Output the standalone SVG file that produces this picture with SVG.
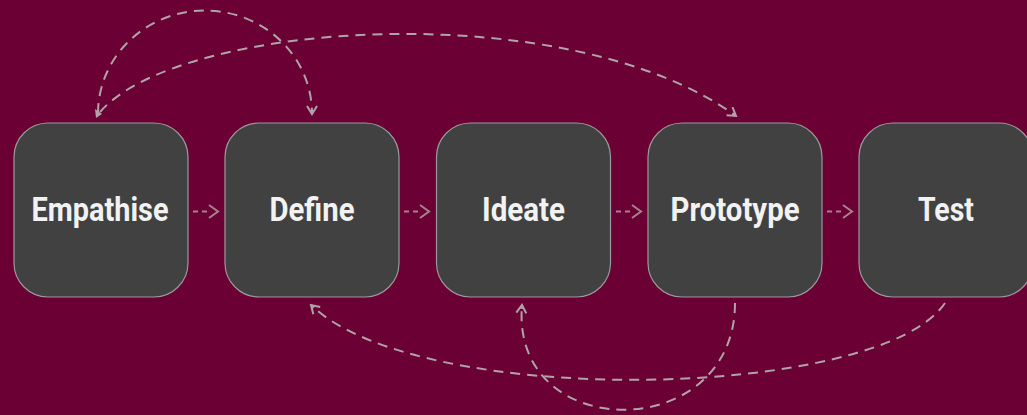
<svg xmlns="http://www.w3.org/2000/svg" width="1027" height="415" viewBox="0 0 1027 415">
<defs>
<style>
.bg{fill:#6a0033}
.box{fill:#414141;stroke:#9a9a9a;stroke-width:1.2}
.lbl{font-family:Roboto,"Liberation Sans",sans-serif;font-weight:700;font-size:33px;fill:#f2f2f2;text-anchor:middle}
.con{fill:none;stroke:#b0a3aa;stroke-width:2;stroke-dasharray:10 7}
.small{fill:none;stroke:#a9828f;stroke-width:2}
</style>
<marker id="ah" viewBox="-10 -6 12 12" refX="0" refY="0" markerWidth="12" markerHeight="12" markerUnits="userSpaceOnUse" orient="auto">
<path d="M-8,-5 L0,0 L-8,5" fill="none" stroke="#b0a3aa" stroke-width="2"/>
<path d="M-4,-1.5 L0,0 L-4,1.5 Z" fill="#b0a3aa"/>
</marker>
</defs>
<rect class="bg" x="0" y="0" width="1027" height="415"/>
<g id="connectors">
<path class="con" d="M98,113 A107,103 0 0 1 312,114" marker-end="url(#ah)"/>
<path class="con" d="M100,112 C180,20 570,-5 736,116" marker-end="url(#ah)"/>
<polygon points="95,109 102,114 96,118" fill="#b0a3aa"/>
<path class="con" d="M945,303 C880,400 420,410 311,305" marker-end="url(#ah)"/>
<path class="con" d="M735,303 C735,445 510,445 522,305" marker-end="url(#ah)"/>
<g class="small">
<path d="M193,211.5 H198 M202,211.5 H207 M209,205 L218,211.5 L209,218"/>
<path d="M404,211.5 H409 M413,211.5 H418 M420,205 L429,211.5 L420,218"/>
<path d="M616,211.5 H621 M625,211.5 H630 M632,205 L641,211.5 L632,218"/>
<path d="M827,211.5 H832 M836,211.5 H841 M843,205 L852,211.5 L843,218"/>
</g>
</g>
<g id="empathise">
<rect class="box" x="14" y="123" width="174" height="174" rx="34"/>
<text class="lbl" x="100" y="221" textLength="137" lengthAdjust="spacingAndGlyphs">Empathise</text>
</g>
<g id="define">
<rect class="box" x="225" y="123" width="174" height="174" rx="34"/>
<text class="lbl" x="312" y="221" textLength="85" lengthAdjust="spacingAndGlyphs">Define</text>
</g>
<g id="ideate">
<rect class="box" x="436.5" y="123" width="174" height="174" rx="34"/>
<text class="lbl" x="523.5" y="221" textLength="83" lengthAdjust="spacingAndGlyphs">Ideate</text>
</g>
<g id="prototype">
<rect class="box" x="648" y="123" width="174" height="174" rx="34"/>
<text class="lbl" x="735" y="221" textLength="129" lengthAdjust="spacingAndGlyphs">Prototype</text>
</g>
<g id="test">
<rect class="box" x="859" y="123" width="174" height="174" rx="34"/>
<text class="lbl" x="946" y="221" textLength="56" lengthAdjust="spacingAndGlyphs">Test</text>
</g>
</svg>
